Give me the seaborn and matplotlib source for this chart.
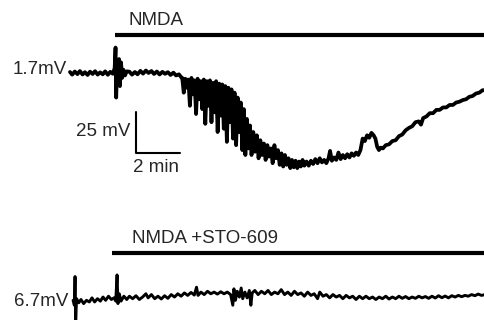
import matplotlib
matplotlib.use("Agg")
import matplotlib.pyplot as plt
import pandas as pd
import seaborn as sns

# membrane potential traces, time in min, voltage in mV relative to the resting level
top_t = [
    0.00, 0.10, 0.22, 0.34, 0.45, 0.57, 0.68, 0.80, 0.91, 1.03, 1.14, 1.26, 1.37, 1.49, 1.60, 1.72, 1.83, 1.95,
    2.03, 2.07, 2.10, 2.14, 2.18, 2.23, 2.27, 2.32, 2.37, 2.43, 2.50, 2.58,
    2.70, 2.82, 2.95, 3.07, 3.20, 3.32, 3.45, 3.57, 3.70, 3.82, 3.95, 4.07, 4.20, 4.32, 4.45, 4.57, 4.70, 4.82, 4.95, 5.05,
    5.10, 5.17, 5.24, 5.31, 5.38, 5.45, 5.52, 5.59, 5.66, 5.73, 5.80, 5.87, 5.94, 6.01, 6.08, 6.15, 6.22, 6.29, 6.36,
    6.43, 6.50, 6.57, 6.64, 6.71, 6.78, 6.85, 6.92, 6.99, 7.06, 7.13, 7.20, 7.27, 7.34, 7.41, 7.48, 7.55, 7.62, 7.69,
    7.76, 7.83, 7.90, 7.97, 8.04, 8.11, 8.18,
    8.25, 8.33, 8.41, 8.49, 8.57, 8.65, 8.73, 8.81, 8.89, 8.97, 9.05, 9.13, 9.21, 9.29, 9.37, 9.45, 9.53, 9.61, 9.69,
    9.77, 9.85, 9.93, 10.01, 10.09, 10.17, 10.25, 10.33, 10.41, 10.49, 10.57, 10.65,
    10.75, 10.85, 10.95, 11.05, 11.15, 11.25, 11.35, 11.45, 11.55, 11.65, 11.75, 11.82, 11.90, 12.00, 12.10, 12.20,
    12.30, 12.40, 12.50, 12.60, 12.70, 12.80, 12.90, 13.00, 13.10, 13.20,
    13.30, 13.40, 13.50, 13.60, 13.70, 13.80, 13.88, 13.96, 14.04, 14.12, 14.22,
    14.35, 14.50, 14.65, 14.80, 14.95, 15.10, 15.25, 15.40, 15.55, 15.70, 15.85, 15.95, 16.05, 16.20, 16.35, 16.50,
    16.65, 16.80, 16.95, 17.10, 17.25, 17.40, 17.55, 17.70, 17.85, 18.00, 18.15, 18.30, 18.45, 18.60, 18.75, 18.86,
]
top_v = [
    0.6, -1.0, 0.9, -0.7, 1.2, -0.9, 0.5, -1.2, 0.8, -0.6, 1.1, -1.0, 0.4, -0.8, 1.0, -1.1, 0.7, -0.5,
    3.0, 15.5, -15.0, 4.0, -6.0, 8.5, -8.0, 6.5, -3.0, 2.0, -1.5, 1.0,
    0.8, -1.0, 0.6, -0.8, 1.3, -0.4, 1.5, 0.0, 1.2, -0.6, 0.9, -0.9, 0.7, -0.5, 0.5, -1.2, 0.2, -1.5, -0.8, -2.5,
    -3.0, -12.0, -3.5, -9.0, -4.0, -20.0, -3.0, -13.0, -4.5, -25.0, -3.5, -16.0, -5.0, -22.0, -4.0, -31.0, -5.0, -20.0, -4.5,
    -30.0, -6.0, -24.0, -5.0, -36.0, -6.5, -26.0, -7.0, -34.0, -8.0, -42.0, -9.0, -30.0, -10.0, -40.0, -12.0, -44.0, -15.0, -36.0,
    -18.0, -47.0, -22.0, -50.0, -28.0, -46.0, -32.0,
    -50.0, -36.0, -48.0, -38.0, -52.0, -41.0, -50.0, -43.0, -53.0, -44.0, -51.0, -46.0, -55.0, -44.0, -52.0, -47.0, -56.0, -49.0, -57.0,
    -50.0, -56.0, -52.0, -58.0, -53.0, -57.5, -53.5, -58.0, -54.0, -57.0, -53.0, -56.5,
    -54.0, -56.5, -53.5, -55.5, -52.5, -55.0, -52.0, -54.5, -53.0, -55.0, -52.0, -47.5, -53.5, -51.5, -53.0, -48.5,
    -52.5, -50.0, -52.0, -49.5, -51.5, -49.0, -50.5, -48.5, -50.0, -47.0,
    -40.0, -41.5, -38.0, -39.5, -36.5, -38.0, -40.0, -45.0, -47.0, -45.5, -46.0,
    -44.0, -43.5, -41.5, -41.0, -38.5, -37.5, -35.0, -33.5, -32.5, -30.0, -29.5, -31.5, -27.5, -26.5, -24.5, -24.5,
    -22.5, -22.5, -21.0, -21.0, -19.5, -19.5, -18.0, -17.5, -16.5, -16.0, -14.5, -14.0, -12.5, -12.0, -10.5, -10.5,
]

bottom_t = [
    0.14, 0.20, 0.23, 0.26, 0.30, 0.40, 0.50, 0.62, 0.75, 0.88, 1.00, 1.12, 1.25, 1.38, 1.50, 1.62, 1.75, 1.88,
    2.00, 2.08, 2.14, 2.18, 2.24, 2.32, 2.45, 2.58, 2.70, 2.85, 3.00, 3.15, 3.30, 3.45, 3.55, 3.70, 3.85, 4.00,
    4.15, 4.30, 4.45, 4.60, 4.75, 4.90, 5.05, 5.20, 5.35, 5.50, 5.65, 5.75, 5.82, 5.95, 6.10, 6.25, 6.40, 6.55,
    6.70, 6.85, 7.00, 7.15, 7.30, 7.40, 7.45, 7.52, 7.60, 7.70, 7.78, 7.85, 7.95, 8.05, 8.15, 8.22, 8.28, 8.40,
    8.55, 8.70, 8.85, 9.00, 9.15, 9.30, 9.45, 9.60, 9.75, 9.90, 10.05, 10.20, 10.35, 10.50, 10.65, 10.80, 10.95,
    11.10, 11.25, 11.35, 11.50, 11.65, 11.80, 11.95, 12.10, 12.25, 12.40, 12.55, 12.70, 12.85, 13.00, 13.15,
    13.30, 13.45, 13.60, 13.75, 13.90, 14.05, 14.20, 14.35, 14.50, 14.65, 14.80, 14.95, 15.10, 15.25, 15.40,
    15.55, 15.70, 15.85, 16.00, 16.15, 16.30, 16.45, 16.60, 16.75, 16.90, 17.05, 17.20, 17.35, 17.50, 17.65,
    17.80, 17.95, 18.10, 18.25, 18.40, 18.55, 18.70, 18.86,
]
bottom_v = [
    -2.0, -5.0, 12.5, -14.0, -1.0, -3.5, -1.5, -4.0, -2.0, -3.0, -0.5, -3.0, -1.0, -2.5, 0.0, -2.0, 0.5, -1.5,
    -0.5, -2.5, 13.5, -4.0, 2.0, -2.5, 0.5, -1.5, 0.5, -1.0, 0.8, -1.5, 0.0, 2.0, -0.5, 1.5, -1.0, 0.5,
    -1.2, 0.8, -0.8, 1.5, 0.0, 2.0, 0.5, 2.5, 1.0, 2.8, 1.2, 6.0, 1.0, 3.0, 1.5, 3.5, 2.0, 3.0,
    1.8, 3.2, 2.0, 3.0, 1.5, -5.0, 5.0, -2.0, 3.5, 0.0, 5.5, -1.0, 3.0, -0.5, 4.0, -5.0, 2.5, 4.0,
    1.5, 3.5, 2.0, 4.0, 1.5, 3.0, 2.0, 4.5, 1.5, 3.0, 1.0, 3.5, 1.5, 2.5, 0.5, 3.0, 1.0,
    2.0, -1.0, 3.0, 0.5, 1.5, -0.5, 1.5, 0.0, 1.0, -1.0, 1.0, -0.5, 0.5, -1.5, 0.5,
    -1.0, 0.5, -1.0, 0.0, -1.5, 0.0, -1.0, 0.5, -1.2, 0.0, -1.0, 0.5, -0.8, 0.3, -1.0,
    0.0, -0.8, 0.5, -0.5, 0.3, -0.8, 0.5, -0.6, 0.8, -0.4, 0.6, -0.5, 0.8, 0.0, 1.0,
    0.2, 1.0, 0.5, 1.5, 0.8, 1.8, 1.0, 1.5,
]

trace_labels = ["1.7mV", "6.7mV"]
drug_labels = ["NMDA", "NMDA +STO-609"]
drug_start = [2.05, 1.91]  # min
scale_mv = 25
scale_min = 2

# layout (data units of the single canvas axes)
OFFSET = -136.6
T_MAX = 18.86

sns.set_style("white")
plt.rcParams["font.family"] = ["Liberation Sans", "DejaVu Sans"]

fig = plt.figure(figsize=(4.85, 3.2), dpi=100)
ax = fig.add_axes([0, 0, 1, 1])

top = pd.DataFrame({"t": top_t, "v": top_v})
bottom = pd.DataFrame({"t": bottom_t, "v": [v + OFFSET for v in bottom_v]})
sns.lineplot(data=top, x="t", y="v", ax=ax, color="black", lw=2.7,
             sort=False, estimator=None)
sns.lineplot(data=bottom, x="t", y="v", ax=ax, color="black", lw=2.1,
             sort=False, estimator=None)

# drug application bars and labels
bar_y = [23.2, -109.8]
label_y = [32.3, -101.2]
label_x = [2.68, 2.82]
for i in range(2):
    ax.plot([drug_start[i], T_MAX + 1], [bar_y[i]] * 2, color="black", lw=3.0,
            solid_capstyle="butt")
    ax.text(label_x[i], label_y[i], drug_labels[i], fontsize=13.5,
            ha="left", va="center")

# resting level labels
ax.text(-0.12, 2.4, trace_labels[0], fontsize=13.5, ha="right", va="center")
ax.text(-0.08, OFFSET - 3.0, trace_labels[1], fontsize=13.5, ha="right", va="center")

# scale bar
sx, sy = 3.0, -48.8
ax.plot([sx, sx, sx + scale_min], [sy + scale_mv, sy, sy], color="black", lw=1.5)
ax.text(sx - 0.27, sy + scale_mv / 2 + 0.8, f"{scale_mv} mV", fontsize=13.5,
        ha="right", va="center")
ax.text(sx + scale_min / 2 - 0.1, sy - 9.1, f"{scale_min} min", fontsize=13.5,
        ha="center", va="center")

ax.set_xlim(-3.18, T_MAX)
ax.set_ylim(-150.6, 44.5)
ax.axis("off")

fig.savefig("out.png", dpi=100)
plt.close(fig)
